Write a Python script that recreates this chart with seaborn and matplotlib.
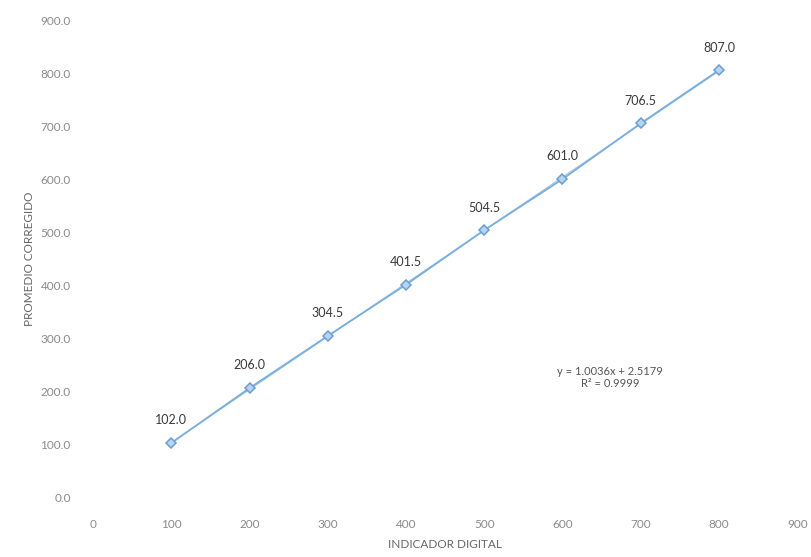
import matplotlib
matplotlib.use("Agg")
import matplotlib.pyplot as plt
import seaborn as sns
import pandas as pd

indicador = [100, 200, 300, 400, 500, 600, 700, 800]
promedio = [102.0, 206.0, 304.5, 401.5, 504.5, 601.0, 706.5, 807.0]
x_ticks = [0, 100, 200, 300, 400, 500, 600, 700, 800, 900]
y_ticks = [0, 100, 200, 300, 400, 500, 600, 700, 800, 900]
ecuacion = "y = 1.0036x + 2.5179\nR² = 0.9999"

df = pd.DataFrame({"INDICADOR DIGITAL": indicador, "PROMEDIO CORREGIDO": promedio})

sns.set_style("white")
plt.rcParams['font.family'] = ['Lato', 'DejaVu Sans']

fig = plt.figure(figsize=(8.11, 5.57), dpi=100)
ax = fig.add_axes([0.1147, 0.1077, 0.8683, 0.8546])

line_color = "#7aaedd"
sns.regplot(data=df, x="INDICADOR DIGITAL", y="PROMEDIO CORREGIDO", ax=ax,
            ci=None, scatter=False, truncate=True,
            line_kws={"color": "#a5c8e8", "lw": 0.9})
sns.lineplot(data=df, x="INDICADOR DIGITAL", y="PROMEDIO CORREGIDO", ax=ax,
             color=line_color, lw=1.3, marker="D", markersize=5,
             markerfacecolor="#b9d4ee", markeredgecolor="#6a9fd4", markeredgewidth=1.1)

for xv, yv in zip(indicador, promedio):
    ax.annotate(f"{yv:.1f}", (xv, yv), xytext=(0, 12), textcoords="offset points",
                ha="center", va="bottom", fontsize=9, color="#3a3a3a")

ax.text(661, 226, ecuacion, ha="center", va="center", fontsize=8,
        color="#555555", linespacing=1.1)

ax.set_xlim(0, 900)
ax.set_ylim(0, 900)
ax.set_xticks(x_ticks)
ax.set_yticks(y_ticks)
ax.set_xticklabels([str(v) for v in x_ticks])
ax.set_yticklabels([f"{v:.1f}" for v in y_ticks])
ax.tick_params(axis="both", length=0, labelsize=8.5, colors="#8a8a8a")
ax.tick_params(axis="x", pad=16)
ax.tick_params(axis="y", pad=16)
for s in ax.spines.values():
    s.set_visible(False)

ax.set_xlabel("INDICADOR DIGITAL", fontsize=8.5, color="#666666", labelpad=6)
ax.set_ylabel("PROMEDIO CORREGIDO", fontsize=8.5, color="#666666", labelpad=4)

fig.savefig("out.png", dpi=100)
